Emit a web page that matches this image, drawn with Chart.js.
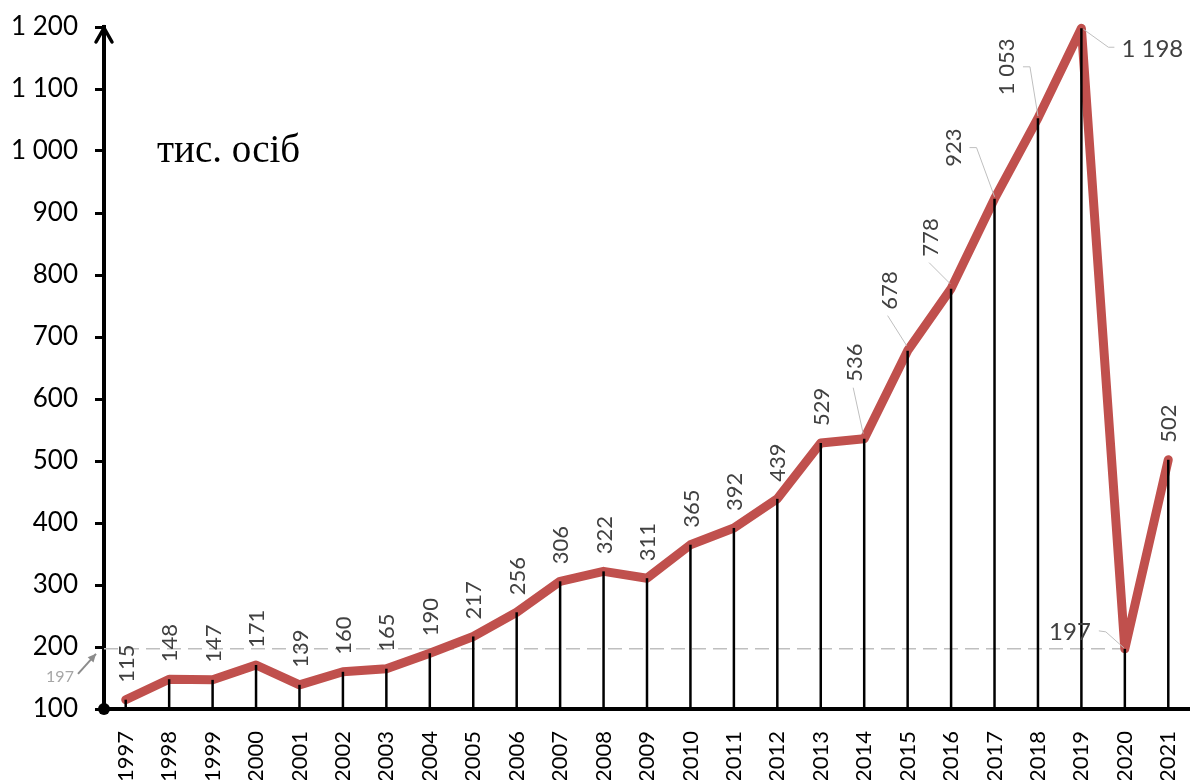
<!DOCTYPE html>
<html>
<head>
<meta charset="utf-8">
<script src="https://cdn.jsdelivr.net/npm/chart.js@4"></script>
<style>
    html, body { margin: 0; padding: 0; background: #fff; }
    #wrap { width: 1190px; height: 780px; }
</style>
</head>
<body>
<div id="wrap"><canvas id="chart" width="1190" height="780"></canvas></div>
<script>
// Data
const years = ['1997', '1998', '1999', '2000', '2001', '2002', '2003', '2004', '2005',
    '2006', '2007', '2008', '2009', '2010', '2011', '2012', '2013', '2014', '2015',
    '2016', '2017', '2018', '2019', '2020', '2021'];
const persons = [115, 148, 147, 171, 139, 160, 165, 190, 217, 256, 306, 322, 311,
    365, 392, 439, 529, 536, 678, 778, 923, 1053, 1198, 197, 502];
const yTickValues = [100, 200, 300, 400, 500, 600, 700, 800, 900, 1000, 1100, 1200];
const refYear = '2020';
const refValue = 197;
const unitText = 'тис. осіб';

// label placement tweaks (pixels), for the crowded labels
const labelShift = {
    '2014': { dx: -9, dy: -57, mode: 'below' },
    '2015': { dx: -18, dy: -41, mode: 'below' },
    '2016': { dx: -20, dy: -32, mode: 'below' },
    '2017': { dx: -41, dy: -32, mode: 'side' },
    '2018': { dx: -31, dy: -23, mode: 'side' },
    '2019': { dx: 40, dy: 21, mode: 'right' },
    '2020': { dx: -34, dy: -17, mode: 'left' }
};

const LINE_RED = '#C0504D';
const LABEL_GRAY = '#404040';
const LEADER_GRAY = '#bfbfbf';

function fmt(v) {
    if (v >= 1000) {
        return Math.floor(v / 1000) + ' ' + String(v % 1000).padStart(3, '0');
    }
    return String(v);
}

Chart.defaults.font.family = 'Lato, "Open Sans", sans-serif';

const overlay = {
    id: 'overlay',
    beforeDatasetsDraw(chart) {
        const { ctx, chartArea } = chart;
        const y = chart.scales.y;
        const x = chart.scales.x;
        const yRef = y.getPixelForValue(refValue);
        ctx.save();
        ctx.strokeStyle = LEADER_GRAY;
        ctx.lineWidth = 1.5;
        ctx.setLineDash([14, 7]);
        ctx.beginPath();
        ctx.moveTo(chartArea.left, yRef);
        ctx.lineTo(x.getPixelForValue(years.indexOf(refYear)), yRef);
        ctx.stroke();
        ctx.restore();
    },
    afterDatasetsDraw(chart) {
        const { ctx, chartArea } = chart;
        const x = chart.scales.x;
        const y = chart.scales.y;

        // drop lines
        ctx.save();
        ctx.strokeStyle = '#000';
        ctx.lineWidth = 2.5;
        persons.forEach((v, i) => {
            const px = x.getPixelForValue(i);
            const py = y.getPixelForValue(v);
            ctx.beginPath();
            ctx.moveTo(px, py);
            ctx.lineTo(px, chartArea.bottom);
            ctx.stroke();
        });
        ctx.restore();

        // value labels
        ctx.save();
        ctx.font = '22px Lato';
        ctx.fillStyle = LABEL_GRAY;
        ctx.strokeStyle = LEADER_GRAY;
        ctx.lineWidth = 1;
        persons.forEach((v, i) => {
            const px = x.getPixelForValue(i);
            const py = y.getPixelForValue(v);
            const text = fmt(v);
            const s = labelShift[years[i]];
            if (!s) {
                ctx.save();
                ctx.translate(px + 1, py - 17);
                ctx.rotate(-Math.PI / 2);
                ctx.textAlign = 'left';
                ctx.textBaseline = 'middle';
                ctx.fillText(text, 0, 0);
                ctx.restore();
                return;
            }
            const ax = px + s.dx;
            const ay = py + s.dy;
            const tw = ctx.measureText(text).width;
            ctx.beginPath();
            if (s.mode === 'below') {
                ctx.moveTo(ax - 2, ay + 6);
                ctx.lineTo(px - 1, py - 5);
            } else if (s.mode === 'side') {
                ctx.moveTo(ax + 16, ay - tw / 2);
                ctx.lineTo(ax + 23, ay - tw / 2);
                ctx.lineTo(px, py - 2);
            } else if (s.mode === 'right') {
                ctx.moveTo(px + 2, py + 1);
                ctx.lineTo(ax - 13, ay - 2);
                ctx.lineTo(ax - 7, ay - 2);
            } else {
                ctx.moveTo(ax + 8, ay - 1);
                ctx.lineTo(ax + 15, ay);
                ctx.lineTo(px - 1, py - 1);
            }
            ctx.stroke();
            if (s.mode === 'below' || s.mode === 'side') {
                ctx.save();
                ctx.translate(ax, ay);
                ctx.rotate(-Math.PI / 2);
                ctx.textAlign = 'left';
                ctx.textBaseline = 'middle';
                ctx.fillText(text, 0, 0);
                ctx.restore();
            } else {
                ctx.font = '24px Lato';
                ctx.textBaseline = 'middle';
                ctx.textAlign = s.mode === 'right' ? 'left' : 'right';
                ctx.fillText(text, ax, ay);
                ctx.font = '22px Lato';
            }
        });
        ctx.restore();
    },
    afterDraw(chart) {
        const { ctx, chartArea } = chart;
        const y = chart.scales.y;
        const left = chartArea.left;

        ctx.save();
        // arrow on the y axis
        ctx.strokeStyle = '#000';
        ctx.lineWidth = 3.5;
        ctx.lineCap = 'round';
        ctx.beginPath();
        ctx.moveTo(left - 8, chartArea.top + 15);
        ctx.lineTo(left, chartArea.top + 1);
        ctx.lineTo(left + 8, chartArea.top + 15);
        ctx.stroke();

        // dot at the origin
        ctx.fillStyle = '#000';
        ctx.beginPath();
        ctx.arc(left, chartArea.bottom, 6, 0, Math.PI * 2);
        ctx.fill();

        // unit
        ctx.font = '39px "Liberation Serif"';
        ctx.textAlign = 'left';
        ctx.textBaseline = 'alphabetic';
        ctx.fillText(unitText, 157, 162);

        // small reference note with arrow
        const yRef = y.getPixelForValue(refValue);
        ctx.font = '16px Lato';
        ctx.fillStyle = '#a6a6a6';
        ctx.textAlign = 'center';
        ctx.textBaseline = 'middle';
        ctx.fillText(String(refValue), left - 44, yRef + 28);
        ctx.strokeStyle = '#8c8c8c';
        ctx.fillStyle = '#8c8c8c';
        ctx.lineWidth = 2;
        ctx.lineCap = 'butt';
        const x0 = left - 26, y0 = yRef + 25, x1 = left - 8, y1 = yRef + 5;
        ctx.beginPath();
        ctx.moveTo(x0, y0);
        ctx.lineTo(x1, y1);
        ctx.stroke();
        const ang = Math.atan2(y1 - y0, x1 - x0);
        ctx.beginPath();
        ctx.moveTo(x1, y1);
        ctx.lineTo(x1 - 9 * Math.cos(ang - 0.45), y1 - 9 * Math.sin(ang - 0.45));
        ctx.lineTo(x1 - 9 * Math.cos(ang + 0.45), y1 - 9 * Math.sin(ang + 0.45));
        ctx.closePath();
        ctx.fill();
        ctx.restore();
    }
};

const ctx = document.getElementById('chart').getContext('2d');

new Chart(ctx, {
    type: 'line',
    data: {
        labels: years,
        datasets: [{
            data: persons,
            borderColor: LINE_RED,
            borderWidth: 9,
            borderJoinStyle: 'round',
            borderCapStyle: 'round',
            pointRadius: 0,
            tension: 0,
            fill: false,
            clip: false
        }]
    },
    options: {
        responsive: false,
        animation: false,
        devicePixelRatio: 1,
        layout: {
            padding: { top: 27, left: 0, right: 0, bottom: 0 }
        },
        plugins: {
            legend: { display: false },
            tooltip: { enabled: false }
        },
        scales: {
            x: {
                offset: true,
                grid: { display: false },
                border: { display: true, color: '#000', width: 4 },
                ticks: {
                    color: '#000',
                    font: { size: 22 },
                    minRotation: 90,
                    maxRotation: 90,
                    padding: 14,
                    autoSkip: false
                },
                afterFit(scale) {
                    scale.height = 71;
                    scale.paddingLeft = 0;
                    scale.paddingRight = 0;
                }
            },
            y: {
                min: 100,
                max: 1200,
                afterBuildTicks(scale) {
                    scale.ticks = yTickValues.map(v => ({ value: v }));
                },
                grid: {
                    display: true,
                    drawOnChartArea: false,
                    drawTicks: true,
                    tickLength: 9,
                    color: '#000',
                    lineWidth: 3
                },
                border: { display: true, color: '#000', width: 4 },
                ticks: {
                    color: '#000',
                    font: { size: 26 },
                    padding: 17,
                    callback: v => fmt(v)
                },
                afterFit(scale) {
                    scale.width = 104;
                    scale.paddingTop = 0;
                    scale.paddingBottom = 0;
                }
            }
        }
    },
    plugins: [overlay]
});
</script>
</body>
</html>
